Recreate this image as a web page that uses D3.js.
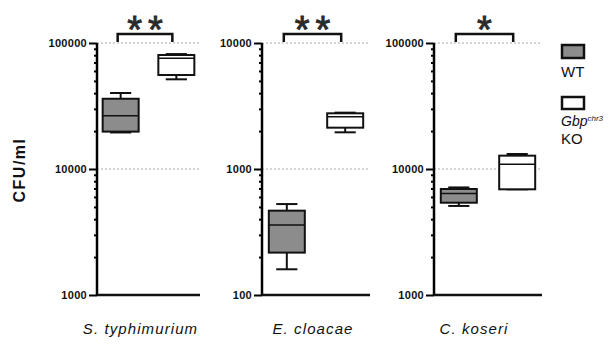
<!DOCTYPE html>
<html>
<head>
<meta charset="utf-8">
<script src="https://cdn.jsdelivr.net/npm/d3@7"></script>
<style>
  body { margin: 0; background: #fff; }
  text { font-family: "Liberation Sans", Arial, sans-serif; }
</style>
</head>
<body>
<svg id="chart" width="611" height="345"></svg>
<script>
// values (CFU/ml)
const species = ["S. typhimurium", "E. cloacae", "C. koseri"];
const domains = [[1000, 100000], [100, 10000], [1000, 100000]];
const significance = ["**", "**", "*"];
const groups = ["WT", "KO"];
// [whisker low, Q1, median, Q3, whisker high]
const wtStats = [
  [19500, 19800, 26500, 36100, 40100],
  [160, 217, 360, 467, 527],
  [5090, 5400, 6400, 6940, 7140]
];
const koStats = [
  [51500, 55700, 75600, 80300, 81700],
  [1955, 2128, 2600, 2767, 2800],
  [6900, 6900, 10900, 12760, 13150]
];

const svg = d3.select("#chart");
const yTop = 43, yBottom = 295;
const panels = [
  {axis: 97, right: 200, label: 140.5},
  {axis: 262, right: 370, label: 313},
  {axis: 434, right: 542, label: 474}
];
const boxW = 36;

function drawBox(g, y, cx, stats, fill) {
  const [lo, q1, med, q3, hi] = stats;
  const half = boxW / 2;
  // whiskers
  g.append("line").attr("x1", cx).attr("x2", cx).attr("y1", y(q3)).attr("y2", y(hi))
    .attr("stroke", "#111").attr("stroke-width", 2);
  g.append("line").attr("x1", cx).attr("x2", cx).attr("y1", y(q1)).attr("y2", y(lo))
    .attr("stroke", "#111").attr("stroke-width", 2);
  g.append("line").attr("x1", cx - half / 1.7).attr("x2", cx + half / 1.7).attr("y1", y(hi)).attr("y2", y(hi))
    .attr("stroke", "#111").attr("stroke-width", 2);
  g.append("line").attr("x1", cx - half / 1.7).attr("x2", cx + half / 1.7).attr("y1", y(lo)).attr("y2", y(lo))
    .attr("stroke", "#111").attr("stroke-width", 2);
  g.append("rect").attr("x", cx - half).attr("width", boxW)
    .attr("y", y(q3)).attr("height", y(q1) - y(q3))
    .attr("fill", fill).attr("stroke", "#111").attr("stroke-width", 2);
  g.append("line").attr("x1", cx - half).attr("x2", cx + half).attr("y1", y(med)).attr("y2", y(med))
    .attr("stroke", "#111").attr("stroke-width", 1.5);
}

species.forEach((name, i) => {
  const p = panels[i];
  const g = svg.append("g");
  const y = d3.scaleLog().domain(domains[i]).range([yBottom, yTop]);
  const x = d3.scaleBand().domain(groups).range([p.axis, p.right]).paddingInner(0.45).paddingOuter(0.15);

  const isDecade = v => Math.abs(Math.log10(v) - Math.round(Math.log10(v))) < 1e-9;

  // dotted decade gridlines
  g.selectAll(".grid").data(y.ticks().filter(v => isDecade(v) && v > domains[i][0])).enter().append("line")
    .attr("x1", p.axis).attr("x2", p.right)
    .attr("y1", d => y(d)).attr("y2", d => y(d))
    .attr("stroke", "#aaa").attr("stroke-width", 1).attr("stroke-dasharray", "2,2");

  // y axis with minor ticks
  const axis = d3.axisLeft(y).tickValues(y.ticks())
    .tickSize(4)
    .tickFormat(v => isDecade(v) ? d3.format("d")(v) : "");
  const ag = g.append("g").attr("transform", `translate(${p.axis},0)`).call(axis);
  ag.select(".domain").attr("stroke-width", 2.5).attr("d", `M0,${yTop}V${yBottom}`);
  ag.selectAll(".tick line").attr("stroke-width", 2)
    .attr("x2", v => isDecade(v) ? -8 : -3);
  ag.selectAll(".tick text").attr("x", -10).attr("dy", "0.34em")
    .attr("font-size", 11).attr("font-weight", "bold").attr("fill", "#111")
    .attr("letter-spacing", 0.3)
    .attr("font-family", "Liberation Sans, Arial, sans-serif");

  // baseline
  g.append("line").attr("x1", p.axis).attr("x2", p.right).attr("y1", yBottom).attr("y2", yBottom)
    .attr("stroke", "#111").attr("stroke-width", 2.5);

  const xc = k => x(k) + x.bandwidth() / 2;
  drawBox(g, y, xc("WT"), wtStats[i], "#8c8c8c");
  drawBox(g, y, xc("KO"), koStats[i], "#fff");

  // significance bracket
  const bx1 = xc("WT") - 3, bx2 = xc("KO") - 4;
  g.append("path").attr("d", `M${bx1},42V34H${bx2}V42`)
    .attr("fill", "none").attr("stroke", "#111").attr("stroke-width", 2.5);
  g.append("text").attr("x", (bx1 + bx2) / 2 + 3).attr("y", 43)
    .attr("text-anchor", "middle").attr("font-size", 38)
    .attr("stroke", "#2a2a2a").attr("stroke-width", 0.9)
    .attr("letter-spacing", 6).attr("fill", "#2a2a2a").text(significance[i]);

  // species label
  g.append("text").attr("x", p.label).attr("y", 333.5)
    .attr("text-anchor", "middle").attr("font-size", 15).attr("font-style", "italic")
    .attr("letter-spacing", 1.1).attr("fill", "#111").text(name);
});

// y-axis title
svg.append("text").attr("transform", "translate(25,170) rotate(-90)")
  .attr("text-anchor", "middle").attr("font-size", 16).attr("font-weight", "bold")
  .attr("letter-spacing", 1.5).attr("fill", "#111").text("CFU/ml");

// legend
const lg = svg.append("g");
lg.append("rect").attr("x", 562).attr("y", 45).attr("width", 22).attr("height", 13)
  .attr("fill", "#8c8c8c").attr("stroke", "#111").attr("stroke-width", 2.5);
lg.append("text").attr("x", 561).attr("y", 77).attr("font-size", 15)
  .attr("fill", "#111").text("WT");
lg.append("rect").attr("x", 562).attr("y", 97).attr("width", 22).attr("height", 12)
  .attr("fill", "#fff").attr("stroke", "#111").attr("stroke-width", 2.5);
const gbp = lg.append("text").attr("x", 561).attr("y", 126).attr("font-size", 14).attr("fill", "#111")
  .attr("font-style", "italic");
gbp.append("tspan").text("Gbp");
gbp.append("tspan").attr("font-size", 8).attr("dy", -5).text("chr3");
lg.append("text").attr("x", 561).attr("y", 144).attr("font-size", 15).attr("fill", "#111").text("KO");
</script>
</body>
</html>
